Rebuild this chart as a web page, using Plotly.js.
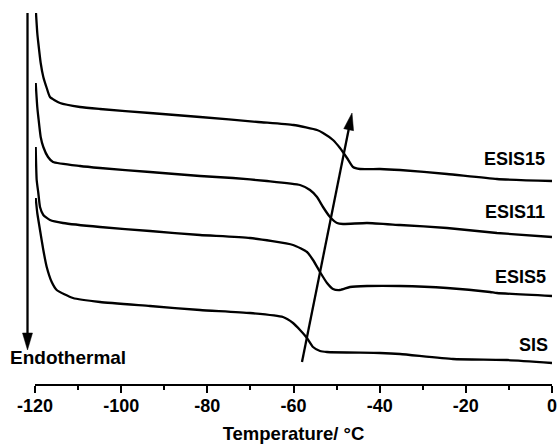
<!DOCTYPE html>
<html>
<head>
<meta charset="utf-8">
<script src="https://cdn.plot.ly/plotly-3.0.1.min.js"></script>
<style>html,body{margin:0;padding:0;background:#fff;}#chart{width:558px;height:444px;}</style>
</head>
<body>
<div id="chart"></div>
<script>
// Temperature (°C) and heat-flow (arbitrary offset units)
const tESIS15 = [-119.77,-119.47,-119.23,-118.68,-118.07,-117.28,-116.52,-114.20,-109.55,-104.91,-93.31,-81.70,-68.24,-60.0,-54.54,-53.15,-50.83,-49.21,-47.58,-46.19,-44.56,-39.92,-35.28,-24.37,-12.77,0];
const hESIS15 = [371,351,341,321,307,296,287,281,277,275,271,267,262,259,254,251,244,236,226,217,215,215,214,210,205,203];

const tESIS11 = [-119.84,-119.47,-119.23,-118.68,-118.07,-116.98,-115.82,-109.55,-104.91,-93.31,-81.70,-74.04,-66.15,-58.49,-56.17,-54.54,-53.15,-51.53,-49.90,-48.51,-42.94,-35.28,-24.37,-12.77,0];
const hESIS11 = [301,277,267,247,237,227,222,218,216,212,208,206,203,199,194,187,177,167,161,160,161,159,156,151,147];

const tESIS5 = [-119.84,-119.61,-119.23,-118.84,-118.07,-116.52,-113.50,-104.91,-93.31,-81.70,-70.10,-60.11,-56.87,-55.47,-53.85,-52.22,-50.83,-49.21,-46.89,-42.94,-35.28,-24.37,-14.39,-12.77,0];
const hESIS5 = [237,204,191,177,169,164,161,157,153,149,146,139,132,124,112,101,95,94,97,98,98,96,92,91,88];

const tSIS = [-119.84,-119.47,-118.84,-118.07,-117.28,-116.12,-114.96,-111.18,-104.91,-93.31,-81.70,-70.10,-62.44,-60.11,-58.49,-56.87,-55.47,-53.85,-52.22,-39.92,-35.28,-22.98,-10.44,0];
const hSIS = [186,171,154,134,117,102,94,86,82,78,74,71,67,61,54,46,37,33,32,31,30,25,24,21];

const seriesNames = ['ESIS15','ESIS11','ESIS5','SIS'];
const tickValues = [-120,-100,-80,-60,-40,-20,0];
const tickLabels = ['-120','-100','-80','-60','-40','-20','0'];

const FONT = 'Liberation Sans, Arial, sans-serif';
const lineStyle = {color:'#000', width:2.3, shape:'spline', smoothing:0.5};

const data = [
  {x:tESIS15, y:hESIS15, name:seriesNames[0]},
  {x:tESIS11, y:hESIS11, name:seriesNames[1]},
  {x:tESIS5, y:hESIS5, name:seriesNames[2]},
  {x:tSIS, y:hSIS, name:seriesNames[3]}
].map(d => Object.assign(d, {type:'scatter', mode:'lines', line:lineStyle, hoverinfo:'skip', cliponaxis:false}));

const labelY = [225, 172, 107, 39];
const labelX = [-1.2, -1.2, -0.9, -0.5];
const annotations = seriesNames.map((n,i) => ({
  text:'<b>'+n+'</b>', x:labelX[i], y:labelY[i], xref:'x', yref:'y',
  xanchor:'right', yanchor:'middle', showarrow:false,
  font:{family:FONT, size:18, color:'#000'}
}));
annotations.push({
  text:'<b>Endothermal</b>', x:-0.053, y:27, xref:'paper', yref:'y',
  xanchor:'left', yanchor:'middle', showarrow:false,
  font:{family:FONT, size:19, color:'#000'}
});

// arrows: line + custom slim triangular head (pixel-sized path anchored at the tip)
const HEAD_LEN = 17, HEAD_HALF = 5;
const plotW = 558 - 35 - 6; // px across x range
const pxPerDeg = plotW / 120;
function headPath(ux, uy) { // unit direction (up positive), tip at origin
  const bx = -HEAD_LEN*ux, by = -HEAD_LEN*uy;
  const px = -uy, py = ux;
  return `M0,0 L${(bx+HEAD_HALF*px).toFixed(2)},${(by+HEAD_HALF*py).toFixed(2)} L${(bx-HEAD_HALF*px).toFixed(2)},${(by-HEAD_HALF*py).toFixed(2)} Z`;
}
const shapes = [];
// vertical "Endothermal" arrow
const a1x = -0.0145, a1Top = 371, a1Tip = 34;
shapes.push({type:'line', xref:'paper', yref:'y', x0:a1x, x1:a1x, y0:a1Top, y1:a1Tip+8, line:{color:'#000', width:2.3}});
shapes.push({type:'path', xref:'paper', yref:'y', xsizemode:'pixel', ysizemode:'pixel', xanchor:a1x, yanchor:a1Tip,
  path:headPath(0,-1), fillcolor:'#000', line:{color:'#000', width:0.5}});
// slanted trend arrow
const a2 = {x0:-58.03, y0:22, x1:-46.42, y1:271};
const dxp = (a2.x1-a2.x0)*pxPerDeg, dyp = (a2.y1-a2.y0);
const L = Math.hypot(dxp, dyp), ux = dxp/L, uy = dyp/L;
shapes.push({type:'line', xref:'x', yref:'y', x0:a2.x0, y0:a2.y0,
  x1:a2.x1 - 8*ux/pxPerDeg, y1:a2.y1 - 8*uy, line:{color:'#000', width:2.3}});
shapes.push({type:'path', xref:'x', yref:'y', xsizemode:'pixel', ysizemode:'pixel', xanchor:a2.x1, yanchor:a2.y1,
  path:headPath(ux,uy), fillcolor:'#000', line:{color:'#000', width:0.5}});

const layout = {
  width:558, height:444,
  margin:{l:35, r:6, t:5, b:60},
  paper_bgcolor:'#fff', plot_bgcolor:'#fff',
  showlegend:false,
  xaxis:{
    range:[-120,0], showgrid:false, zeroline:false,
    showline:true, linecolor:'#000', linewidth:2,
    ticks:'outside', ticklen:7, tickwidth:2, tickcolor:'#000',
    tickvals:tickValues, ticktext:tickLabels, ticklabelstandoff:-3,
    tickfont:{family:FONT, size:18, color:'#000', weight:'bold'},
    minor:{dtick:10, tick0:0, ticks:'outside', ticklen:4, tickwidth:2, tickcolor:'#000', showgrid:false},
    title:{text:'<b>Temperature/ °C</b>', font:{family:FONT, size:18.5, color:'#000'}, standoff:12}
  },
  yaxis:{range:[0,379], visible:false, showgrid:false, zeroline:false, fixedrange:true},
  annotations:annotations,
  shapes:shapes
};

Plotly.newPlot('chart', data, layout, {displayModeBar:false, staticPlot:true});
</script>
</body>
</html>
